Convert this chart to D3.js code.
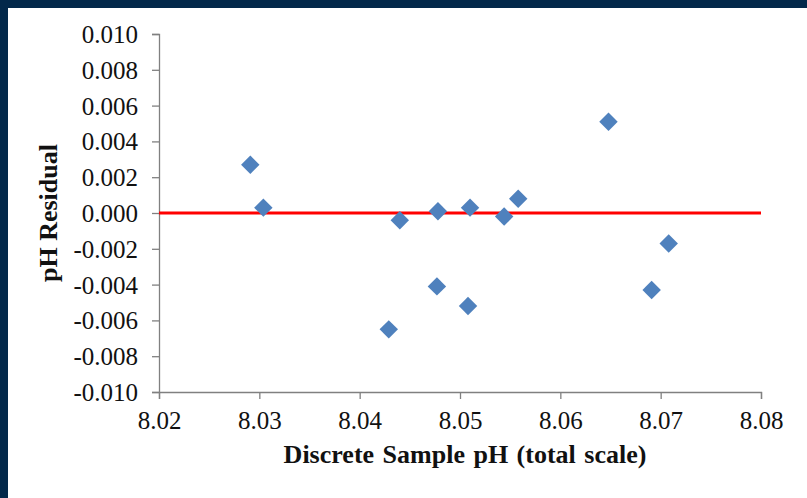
<!DOCTYPE html>
<html>
<head>
<meta charset="utf-8">
<script src="https://cdn.jsdelivr.net/npm/d3@7"></script>
<style>
  body { margin: 0; background: #fff; }
  svg { display: block; }
</style>
</head>
<body>
<svg id="chart"></svg>
<script>
// discrete sample pH vs residual
const samplePH = [8.0291, 8.0304, 8.0429, 8.0440, 8.0477, 8.0478, 8.0508, 8.0510, 8.0544, 8.0558, 8.0648, 8.0691, 8.0708];
const residual = [0.0027, 0.0003, -0.0065, -0.0004, -0.0041, 0.0001, -0.0052, 0.0003, -0.0002, 0.0008, 0.0051, -0.0043, -0.0017];
const xTicks = [8.02, 8.03, 8.04, 8.05, 8.06, 8.07, 8.08];
const yTicks = [-0.010, -0.008, -0.006, -0.004, -0.002, 0.000, 0.002, 0.004, 0.006, 0.008, 0.010];

const width = 807, height = 498;
const margin = {top: 34, right: 46, bottom: 106, left: 159};

const svg = d3.select('#chart')
    .attr('width', width)
    .attr('height', height);

// navy frame, top and left only
svg.append('rect').attr('x', 0).attr('y', 0).attr('width', width).attr('height', 8).attr('fill', '#03284a');
svg.append('rect').attr('x', 0).attr('y', 0).attr('width', 8).attr('height', height).attr('fill', '#03284a');

const scaleX = d3.scaleLinear().domain([8.02, 8.08]).range([margin.left, width - margin.right]);
const scaleY = d3.scaleLinear().domain([-0.010, 0.010]).range([height - margin.bottom, margin.top]);

const font = '"Liberation Serif", "Times New Roman", serif';
const fmtY = d => d3.format('.3f')(d).replace('\u2212', '-');

const axisBottom = d3.axisBottom(scaleX).tickValues(xTicks).tickFormat(d3.format('.2f')).tickSizeOuter(0).tickSize(7).tickPadding(12);
const axisLeft = d3.axisLeft(scaleY).tickValues(yTicks).tickFormat(fmtY).tickSizeOuter(0).tickSize(7).tickPadding(14);

const gx = svg.append('g')
    .attr('transform', `translate(0,${height - margin.bottom})`)
    .call(axisBottom);
const gy = svg.append('g')
    .attr('transform', `translate(${margin.left},0)`)
    .call(axisLeft);

[gx, gy].forEach(g => {
    g.selectAll('path, line').attr('stroke', '#808080').attr('stroke-width', 1.3);
    g.selectAll('text').attr('font-family', font).attr('font-size', 25).attr('fill', '#111');
});
gy.selectAll('text').attr('dy', '0.34em');

// zero line
svg.append('line')
    .attr('x1', scaleX(8.02)).attr('x2', scaleX(8.08))
    .attr('y1', scaleY(0)).attr('y2', scaleY(0))
    .attr('stroke', '#ff0000').attr('stroke-width', 3);

const diamond = d3.symbol().type(d3.symbolSquare).size(170);
svg.selectAll('path.pt')
    .data(samplePH)
    .join('path')
    .attr('class', 'pt')
    .attr('d', diamond)
    .attr('transform', (d, i) => `translate(${scaleX(d)},${scaleY(residual[i])}) rotate(45)`)
    .attr('fill', '#4f81bd');

svg.append('text')
    .attr('x', 465)
    .attr('y', 463)
    .attr('text-anchor', 'middle')
    .attr('font-family', font).attr('font-weight', 'bold').attr('font-size', 26)
    .attr('word-spacing', 2)
    .attr('fill', '#111')
    .text('Discrete Sample pH (total scale)');

svg.append('text')
    .attr('transform', `translate(57,${scaleY(0)}) rotate(-90)`)
    .attr('text-anchor', 'middle')
    .attr('font-family', font).attr('font-weight', 'bold').attr('font-size', 26)
    .attr('fill', '#111')
    .text('pH Residual');
</script>
</body>
</html>
